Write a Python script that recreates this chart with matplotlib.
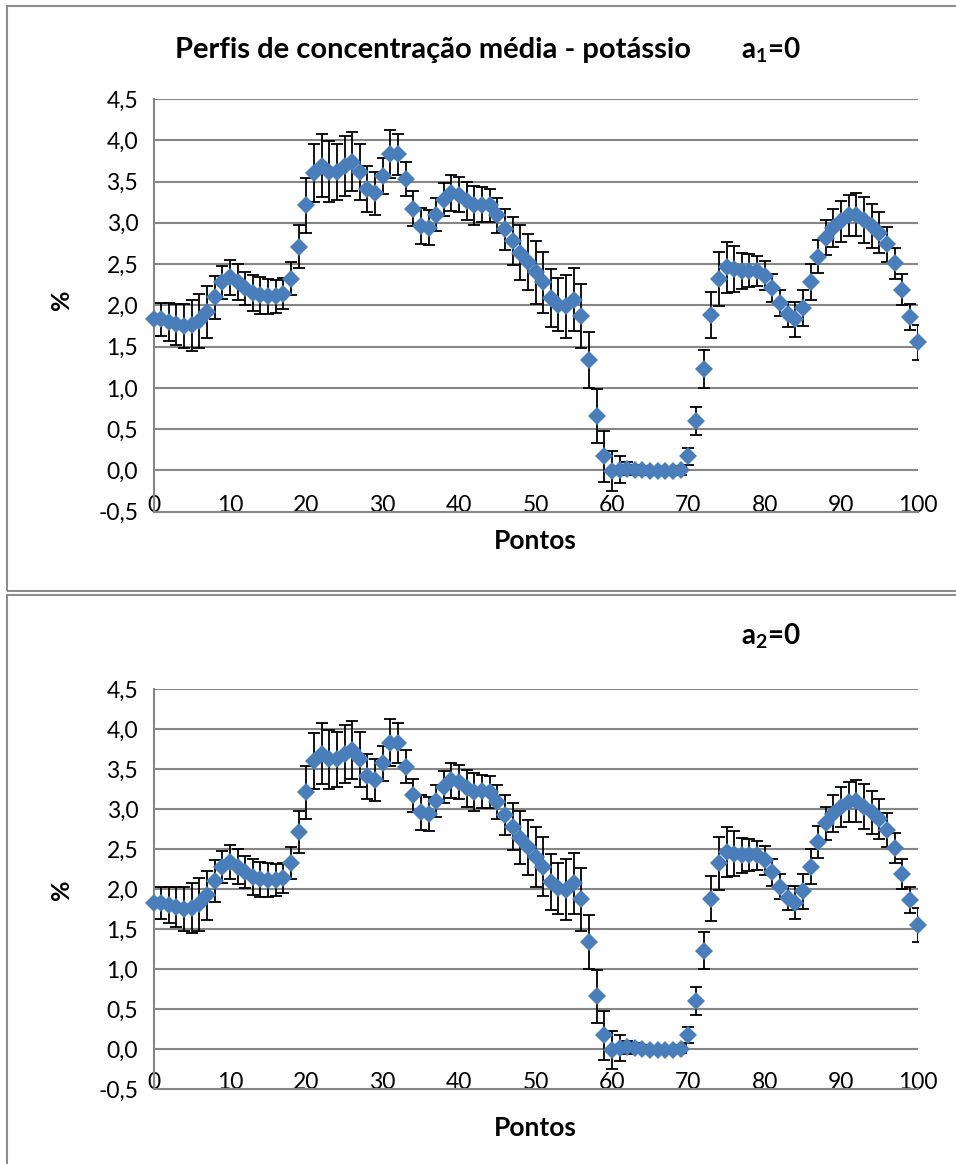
import matplotlib
matplotlib.use("Agg")
import matplotlib.pyplot as plt
from matplotlib.patches import Rectangle

plt.rcParams["font.family"] = ["Lato", "DejaVu Sans"]
plt.rcParams["mathtext.fontset"] = "custom"
plt.rcParams["mathtext.rm"] = "Lato:bold"
plt.rcParams["mathtext.bf"] = "Lato:bold"

# Sampling points along the profile
pontos = list(range(0, 101))

# Mean potassium concentration (%) at each point
media_k = [
    1.83, 1.83, 1.80, 1.77, 1.75, 1.76, 1.81, 1.92, 2.10, 2.28,
    2.34, 2.28, 2.21, 2.15, 2.12, 2.11, 2.11, 2.14, 2.32, 2.71,
    3.21, 3.60, 3.69, 3.62, 3.62, 3.69, 3.74, 3.62, 3.41, 3.36,
    3.57, 3.83, 3.83, 3.53, 3.17, 2.96, 2.94, 3.10, 3.28, 3.36,
    3.34, 3.26, 3.21, 3.22, 3.21, 3.09, 2.92, 2.78, 2.64, 2.52,
    2.40, 2.28, 2.09, 2.01, 1.99, 2.07, 1.87, 1.34, 0.66, 0.17,
    -0.01, 0.01, 0.02, 0.01, 0.00, -0.01, -0.01, -0.01, -0.01, 0.00,
    0.17, 0.60, 1.23, 1.88, 2.32, 2.46, 2.44, 2.42, 2.42, 2.42,
    2.36, 2.21, 2.03, 1.89, 1.83, 1.97, 2.28, 2.59, 2.82, 2.94,
    3.02, 3.09, 3.10, 3.03, 2.96, 2.88, 2.74, 2.51, 2.19, 1.86,
    1.55,
]

# Standard deviation at each point
desvio_k = [
    0.20, 0.20, 0.23, 0.25, 0.27, 0.31, 0.33, 0.31, 0.26, 0.20,
    0.21, 0.22, 0.20, 0.22, 0.22, 0.21, 0.20, 0.19, 0.20, 0.26,
    0.33, 0.35, 0.38, 0.37, 0.34, 0.36, 0.36, 0.34, 0.28, 0.26,
    0.22, 0.29, 0.25, 0.21, 0.21, 0.22, 0.21, 0.20, 0.20, 0.22,
    0.21, 0.23, 0.24, 0.21, 0.20, 0.21, 0.25, 0.29, 0.33, 0.34,
    0.38, 0.37, 0.35, 0.32, 0.38, 0.38, 0.39, 0.34, 0.33, 0.31,
    0.24, 0.16, 0.08, 0.06, 0.05, 0.04, 0.04, 0.04, 0.04, 0.05,
    0.10, 0.17, 0.23, 0.28, 0.33, 0.31, 0.28, 0.22, 0.20, 0.18,
    0.18, 0.17, 0.16, 0.15, 0.21, 0.22, 0.22, 0.20, 0.21, 0.23,
    0.25, 0.25, 0.26, 0.28, 0.27, 0.25, 0.21, 0.19, 0.19, 0.16,
    0.21,
]

y_ticks = [-0.5, 0.0, 0.5, 1.0, 1.5, 2.0, 2.5, 3.0, 3.5, 4.0, 4.5]
x_ticks = [0, 10, 20, 30, 40, 50, 60, 70, 80, 90, 100]

W, H = 956, 1164
fig = plt.figure(figsize=(W / 100, H / 100), dpi=100)
fig.patch.set_facecolor("white")

def fx(px):
    return px / W

def fy(py):
    return 1 - py / H

# Chart frames
for (x0, y0, x1, y1) in [(7, 6, 960, 591), (7, 595, 960, 1170)]:
    fig.patches.append(Rectangle((fx(x0), fy(y1)), fx(x1 - x0), (y1 - y0) / H,
                                 transform=fig.transFigure, fill=False,
                                 edgecolor="#8c8c8c", linewidth=1.5, zorder=0))

GRID = "#868686"
BLUE = "#4A7EBB"

def panel(top_px, bottom_px, pontos_y_px, pct_y_px):
    left_px, right_px = 153.5, 917.5
    ax = fig.add_axes([fx(left_px), fy(bottom_px), fx(right_px - left_px),
                       (bottom_px - top_px) / H])
    ax.set_xlim(0, 100)
    ax.set_ylim(-0.5, 4.5)
    ax.set_yticks(y_ticks)
    ax.set_yticklabels([f"{v:.1f}".replace(".", ",") for v in y_ticks])
    ax.set_xticks(x_ticks)
    ax.set_xticklabels([str(v) for v in x_ticks])
    ax.tick_params(axis="both", length=0, labelsize=16.5, colors="black")
    ax.tick_params(axis="y", pad=11)
    ax.tick_params(axis="x", pad=-12)
    for s in ["top", "right"]:
        ax.spines[s].set_visible(False)
    for s in ["left", "bottom"]:
        ax.spines[s].set_color(GRID)
        ax.spines[s].set_linewidth(1.5)
    for v in y_ticks[1:]:
        ax.axhline(v, color=GRID, linewidth=1.5, zorder=1)
    ax.errorbar(pontos, media_k, yerr=desvio_k, fmt="none", ecolor="black",
                elinewidth=1.3, capsize=4, capthick=1.3, zorder=2)
    ax.plot(pontos, media_k, linestyle="none", marker="D", markersize=9,
            color=BLUE, markeredgewidth=0, zorder=3, clip_on=False)
    fig.text(fx(535), fy(pontos_y_px), "Pontos", ha="center", va="center",
             fontsize=19, fontweight="bold")
    fig.text(fx(62), fy(pct_y_px), "%", ha="center", va="center",
             rotation=90, fontsize=18, fontweight="bold")
    return ax

panel(99, 511.7, 541, 300)
panel(689, 1089, 1128, 890)

fig.text(fx(175), fy(50), "Perfis de concentração média - potássio",
         ha="left", va="center", fontsize=21, fontweight="bold")
fig.text(fx(741), fy(50), r"a$_\mathbf{1}$=0", ha="left", va="center",
         fontsize=20, fontweight="bold")
fig.text(fx(741), fy(636), r"a$_\mathbf{2}$=0", ha="left", va="center",
         fontsize=20, fontweight="bold")

fig.savefig("out.png", dpi=100, facecolor="white")
